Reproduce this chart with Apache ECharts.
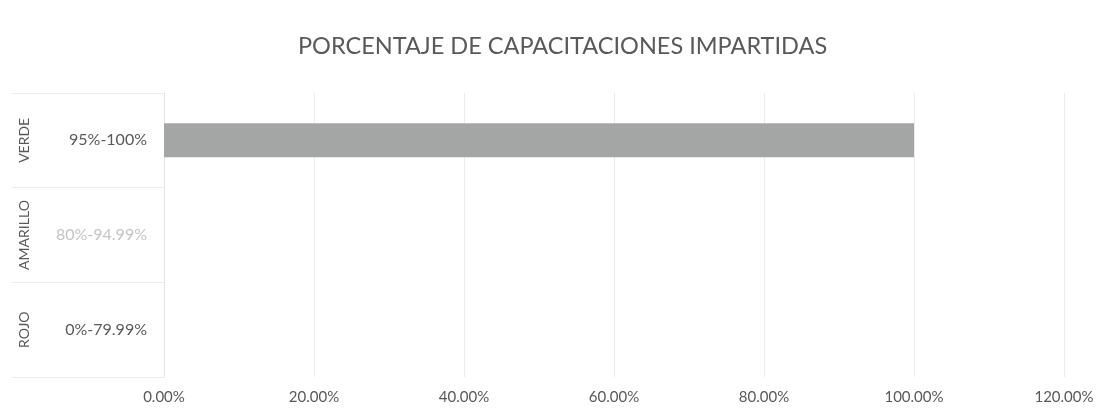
<!DOCTYPE html>
<html>
<head>
<meta charset="utf-8">
<script src="https://cdn.jsdelivr.net/npm/echarts@6/dist/echarts.min.js"></script>
<style>
  html, body { margin: 0; padding: 0; background: #fff; }
  #chart { width: 1106px; height: 419px; }
</style>
</head>
<body>
<div id="chart"></div>
<script>
// datos (de abajo hacia arriba)
var rangos = ['0%-79.99%', '80%-94.99%', '95%-100%'];
var niveles = ['ROJO', 'AMARILLO', 'VERDE'];
var porcentajes = [0, 0, 100];
var ticksX = [0, 20, 40, 60, 80, 100, 120];

var titulo = 'PORCENTAJE DE CAPACITACIONES IMPARTIDAS';
var fuente = 'Lato';
var gris = '#595959';
var grisClaro = '#c4c4c4';

var myChart = echarts.init(document.getElementById('chart'));

var option = {
    backgroundColor: '#fff',
    animation: false,
    title: {
        text: titulo,
        left: 293,
        top: 29,
        textStyle: { fontFamily: fuente, fontSize: 23.5, fontWeight: 'normal', color: gris }
    },
    grid: { left: 164, right: 42, top: 93, bottom: 42 },
    xAxis: {
        type: 'value',
        min: ticksX[0],
        max: ticksX[ticksX.length - 1],
        interval: 20,
        axisLine: { show: false },
        axisTick: { show: false },
        splitLine: { lineStyle: { color: '#ebebeb', width: 1 } },
        axisLabel: {
            margin: 13,
            fontFamily: fuente,
            fontSize: 15,
            color: function (v) {
                return (v === 80 || v === 100) ? grisClaro : gris;
            },
            formatter: function (v) { return v.toFixed(2) + '%'; }
        }
    },
    yAxis: [
        {
            type: 'category',
            data: rangos,
            axisLine: { lineStyle: { color: '#e3e3e3' } },
            axisTick: { show: true, length: 152, lineStyle: { color: '#ececec' } },
            axisLabel: {
                margin: 17,
                fontFamily: fuente,
                fontSize: 16,
                color: function (v) {
                    return v === '80%-94.99%' ? grisClaro : gris;
                }
            }
        },
        {
            type: 'category',
            data: niveles,
            position: 'left',
            offset: 127,
            axisLine: { show: false },
            axisTick: { show: false },
            axisLabel: {
                rotate: 90,
                margin: 6,
                fontFamily: fuente,
                fontSize: 14,
                color: gris
            }
        }
    ],
    series: [
        {
            name: 'Porcentaje',
            type: 'bar',
            yAxisIndex: 0,
            barWidth: 34,
            data: porcentajes,
            itemStyle: { color: '#a4a6a5' }
        }
    ]
};

myChart.setOption(option);
</script>
</body>
</html>
